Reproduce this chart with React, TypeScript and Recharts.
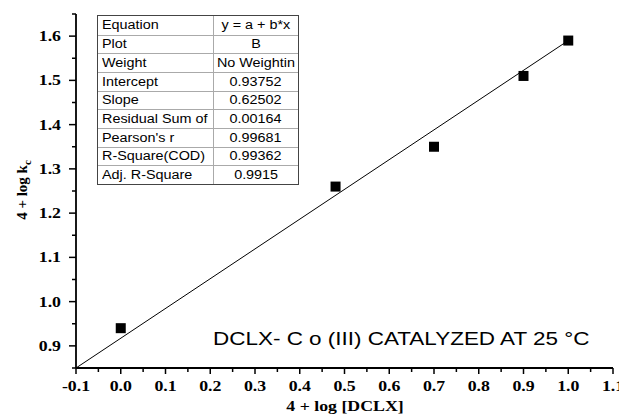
import { ScatterChart, Scatter, XAxis, YAxis } from 'recharts';

// measured points
const xValues = [0.0, 0.48, 0.7, 0.9, 1.0];
const yValues = [0.94, 1.26, 1.35, 1.51, 1.59];

// fitted line as drawn in the figure (end points)
const fitX = [-0.1, 1.0];
const fitY = [0.85, 1.59];

const xMajorTicks = [-0.1, 0.0, 0.1, 0.2, 0.3, 0.4, 0.5, 0.6, 0.7, 0.8, 0.9, 1.0, 1.1];
const xMinorTicks = [-0.05, 0.05, 0.15, 0.25, 0.35, 0.45, 0.55, 0.65, 0.75, 0.85, 0.95, 1.05];
const yMajorTicks = [0.9, 1.0, 1.1, 1.2, 1.3, 1.4, 1.5, 1.6];
const yMinorTicks = [0.85, 0.95, 1.05, 1.15, 1.25, 1.35, 1.45, 1.55, 1.65];

const tableLabels = ['Equation', 'Plot', 'Weight', 'Intercept', 'Slope', 'Residual Sum of', "Pearson's r", 'R-Square(COD)', 'Adj. R-Square'];
const tableValues = ['y = a + b*x', 'B', 'No Weightin', '0.93752', '0.62502', '0.00164', '0.99681', '0.99362', '0.9915'];

const SX = 1.27; // the original figure is stretched horizontally
const serif = '"Liberation Serif", "Times New Roman", serif';
const sans = '"Liberation Sans", Arial, sans-serif';

const points = xValues.map((x, i) => ({ x, y: yValues[i] }));
const fitLine = fitX.map((x, i) => ({ x, y: fitY[i] }));

const isMajor = (v: number) => Math.abs(Math.round(v * 10) - v * 10) < 1e-6;

const XTick = (props: any) => {
  const { x, y, payload } = props;
  const major = isMajor(payload.value);
  return (
    <g>
      <line x1={x} y1={y} x2={x} y2={y + (major ? 6 : 4)} stroke="#000" strokeWidth={1.5} />
      {major && (
        <text transform={`translate(${x},${y + 23}) scale(${SX},1)`} textAnchor="middle"
          fontFamily={serif} fontWeight="bold" fontSize={14} fill="#000">
          {payload.value.toFixed(1)}
        </text>
      )}
    </g>
  );
};

const YTick = (props: any) => {
  const { x, y, payload } = props;
  const major = isMajor(payload.value);
  return (
    <g>
      <line x1={x} y1={y} x2={x - (major ? 7 : 4)} y2={y} stroke="#000" strokeWidth={1.5} />
      {major && (
        <text transform={`translate(${x - 15},${y + 5}) scale(${SX},1)`} textAnchor="end"
          fontFamily={serif} fontWeight="bold" fontSize={14} fill="#000">
          {payload.value.toFixed(1)}
        </text>
      )}
    </g>
  );
};

const Square = (props: any) => (
  <rect x={props.cx - 5} y={props.cy - 5} width={10} height={10} fill="#000" />
);

const rowH = 168 / tableLabels.length;

export default function App() {
  return (
    <div style={{ position: 'absolute', left: 0, top: 0, width: 619, height: 419, background: '#fff' }}>
      <ScatterChart width={619} height={419} margin={{ top: 14, right: 6, bottom: 0, left: 0 }}>
        <XAxis type="number" dataKey="x" domain={[-0.1, 1.1]} ticks={[...xMajorTicks, ...xMinorTicks].sort((a, b) => a - b)}
          interval={0} height={51} tickSize={0} tickMargin={0} tickLine={false}
          axisLine={{ stroke: '#000', strokeWidth: 1.8 }} tick={XTick} allowDecimals />
        <YAxis type="number" dataKey="y" domain={[0.85, 1.65]} ticks={[...yMajorTicks, ...yMinorTicks].sort((a, b) => a - b)}
          interval={0} width={76} tickSize={0} tickMargin={0} tickLine={false}
          axisLine={{ stroke: '#000', strokeWidth: 1.8 }} tick={YTick} />
        <Scatter data={fitLine} line={{ stroke: '#000', strokeWidth: 1 }} shape={() => <g />} isAnimationActive={false} />
        <Scatter data={points} shape={Square} isAnimationActive={false} />
      </ScatterChart>

      <svg width={619} height={419} style={{ position: 'absolute', left: 0, top: 0, pointerEvents: 'none' }}>
        <text transform={`translate(345,411) scale(${SX},1)`} textAnchor="middle" fontFamily={serif}
          fontWeight="bold" fontSize={14} fill="#000">4 + log [DCLX]</text>
        <text transform="translate(27,190) rotate(-90)" textAnchor="middle" fontFamily={serif}
          fontWeight="bold" fontSize={15} fill="#000">
          4 + log k<tspan fontSize={11} dy={4}>c</tspan>
        </text>
        <text transform={`translate(213,344.5) scale(${SX},1)`} fontFamily={sans} fontSize={17.7} fill="#000">
          DCLX- C o (III) CATALYZED AT 25 °C
        </text>
      </svg>

      <div style={{ position: 'absolute', left: 97, top: 15, width: 202, height: 170, boxSizing: 'border-box',
        border: '1px solid #444', background: '#fff', fontFamily: sans, fontSize: 12.5, color: '#000' }}>
        {tableLabels.map((label, i) => (
          <div key={label} style={{ display: 'flex', height: rowH, boxSizing: 'border-box',
            borderTop: i ? '1px solid #aaa' : 'none' }}>
            <div style={{ width: 116, boxSizing: 'border-box', borderRight: '1px solid #aaa', paddingLeft: 4,
              display: 'flex', alignItems: 'center', whiteSpace: 'nowrap' }}>
              <span style={{ display: 'inline-block', transform: `scaleX(${1.15})`, transformOrigin: 'left center' }}>{label}</span>
            </div>
            <div style={{ flex: 1, display: 'flex', alignItems: 'center', justifyContent: 'center', whiteSpace: 'nowrap' }}>
              <span style={{ display: 'inline-block', transform: `scaleX(${1.15})`, transformOrigin: 'center' }}>{tableValues[i]}</span>
            </div>
          </div>
        ))}
      </div>
    </div>
  );
}
